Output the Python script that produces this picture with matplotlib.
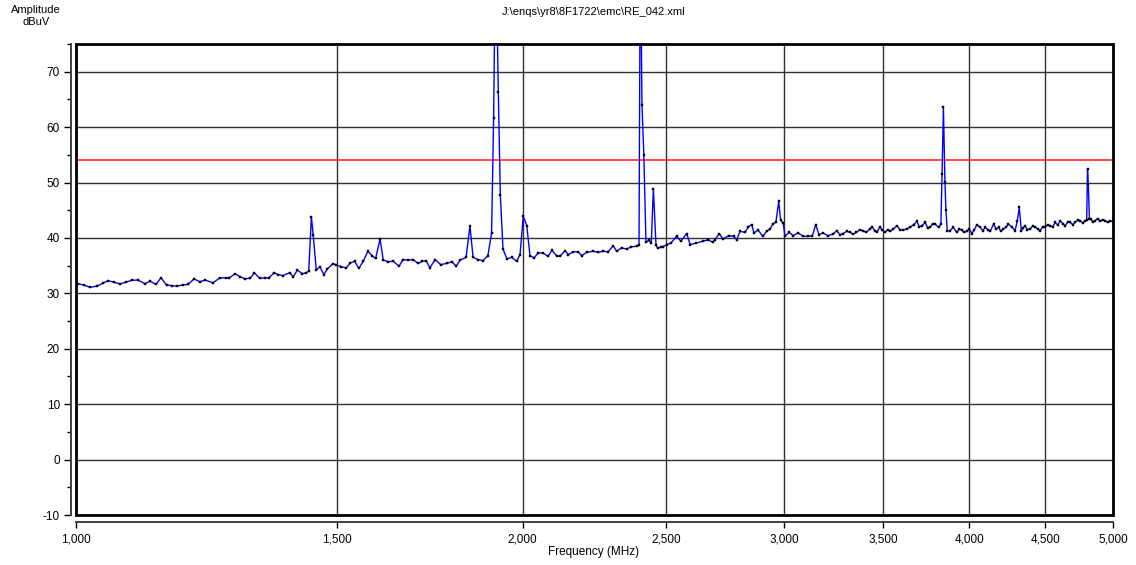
import matplotlib.pyplot as plt
from matplotlib.ticker import FixedLocator, NullLocator, MultipleLocator, FuncFormatter
from matplotlib.patches import Rectangle

plt.rcParams['font.family'] = ['Liberation Sans', 'DejaVu Sans']
plt.rcParams['axes.unicode_minus'] = False

# Data
freq_mhz = [
    1000, 1003, 1012, 1022, 1033, 1042, 1051, 1061, 1071, 1080, 1090, 1101, 1113, 1122, 1132, 1141,
    1151, 1160, 1169, 1180, 1190, 1201, 1212, 1222, 1237, 1250, 1263, 1269, 1280, 1290, 1299, 1310,
    1319, 1330, 1340, 1349, 1360, 1369, 1378, 1393, 1401, 1410, 1421, 1429, 1435, 1441, 1445, 1452,
    1460, 1469, 1477, 1489, 1497, 1509, 1521, 1531, 1541, 1551, 1562, 1573, 1583, 1592, 1603, 1611,
    1624, 1636, 1651, 1661, 1674, 1687, 1701, 1712, 1722, 1732, 1746, 1761, 1778, 1792, 1804, 1815,
    1832, 1843, 1852, 1866, 1881, 1895, 1906, 1912, 1918, 1926, 1932, 1940, 1952, 1966, 1982, 1992,
    2002, 2013, 2023, 2036, 2049, 2063, 2081, 2093, 2109, 2120, 2136, 2147, 2164, 2180, 2192, 2209,
    2232, 2249, 2267, 2284, 2302, 2314, 2332, 2350, 2368, 2387, 2396, 2401, 2407, 2414, 2422, 2434,
    2442, 2450, 2460, 2466, 2479, 2485, 2501, 2518, 2540, 2557, 2580, 2594, 2619, 2647, 2668, 2686,
    2696, 2714, 2729, 2753, 2775, 2788, 2803, 2825, 2839, 2854, 2864, 2883, 2903, 2921, 2936, 2951,
    2963, 2976, 2985, 2997, 3005, 3025, 3044, 3067, 3091, 3115, 3136, 3152, 3168, 3188, 3212, 3238,
    3256, 3273, 3290, 3307, 3324, 3341, 3358, 3375, 3393, 3410, 3428, 3441, 3455, 3468, 3482, 3496,
    3510, 3524, 3538, 3556, 3575, 3593, 3612, 3631, 3650, 3669, 3688, 3702, 3717, 3736, 3750, 3765,
    3780, 3794, 3814, 3828, 3835, 3843, 3852, 3858, 3866, 3882, 3902, 3924, 3940, 3954, 3970, 3985,
    4000, 4016, 4032, 4048, 4069, 4085, 4101, 4117, 4133, 4154, 4170, 4186, 4202, 4218, 4234, 4250,
    4273, 4295, 4310, 4323, 4337, 4349, 4361, 4378, 4395, 4413, 4431, 4448, 4465, 4483, 4500, 4518,
    4535, 4553, 4571, 4589, 4607, 4625, 4643, 4661, 4679, 4697, 4715, 4733, 4752, 4770, 4789, 4800,
    4806, 4812, 4820, 4831, 4847, 4863, 4882, 4901, 4920, 4940, 4959, 4978, 5000,
]
level_dbuv = [
    31.8, 31.75, 31.5, 31.1, 31.3, 31.8, 32.3, 32.0, 31.7, 32.0, 32.35, 32.4, 31.75, 32.2, 31.6, 32.8,
    31.5, 31.4, 31.3, 31.5, 31.6, 32.6, 32.1, 32.4, 31.9, 32.8, 32.8, 32.8, 33.55, 33.0, 32.65, 32.7,
    33.7, 32.7, 32.8, 32.8, 33.7, 33.4, 33.2, 33.7, 33.0, 34.2, 33.55, 33.7, 34.0, 43.8, 40.5, 34.2,
    34.8, 33.4, 34.4, 35.3, 35.2, 34.8, 34.6, 35.5, 35.8, 34.5, 35.8, 37.6, 36.8, 36.3, 39.8, 36.0,
    35.7, 35.8, 34.9, 36.1, 36.0, 36.1, 35.4, 35.8, 35.9, 34.6, 36.1, 35.2, 35.4, 35.7, 34.9, 36.0,
    36.5, 42.2, 36.5, 36.1, 35.9, 36.8, 40.9, 61.7, 95.0, 66.3, 47.8, 38.0, 36.2, 36.5, 35.8, 37.0,
    43.9, 42.2, 36.8, 36.4, 37.3, 37.3, 36.7, 37.8, 36.7, 36.7, 37.7, 37.0, 37.5, 37.5, 36.8, 37.4,
    37.6, 37.4, 37.6, 37.5, 38.6, 37.6, 38.2, 38.0, 38.4, 38.5, 38.7, 95.0, 64.0, 55.0, 39.2, 39.6,
    39.0, 48.9, 38.7, 38.2, 38.3, 38.4, 38.8, 39.1, 40.3, 39.4, 40.8, 38.8, 39.1, 39.4, 39.7, 39.2,
    39.7, 40.8, 39.8, 40.4, 40.3, 39.7, 41.2, 41.0, 42.0, 42.4, 40.9, 41.4, 40.3, 41.2, 41.6, 42.6,
    42.8, 46.6, 43.2, 42.7, 40.3, 41.0, 40.4, 40.9, 40.3, 40.3, 40.4, 42.4, 40.6, 40.9, 40.4, 40.7,
    41.3, 40.6, 40.8, 41.2, 41.0, 40.7, 41.0, 41.5, 41.3, 41.0, 41.6, 42.0, 41.3, 41.1, 42.0, 41.4,
    41.0, 41.5, 41.2, 41.6, 42.2, 41.5, 41.4, 41.7, 41.9, 42.4, 43.0, 42.0, 42.2, 42.8, 41.8, 41.9,
    42.6, 42.5, 41.9, 42.5, 51.6, 63.6, 50.1, 45.0, 41.3, 41.3, 41.9, 41.0, 41.6, 41.4, 41.0, 41.2,
    41.6, 40.8, 41.5, 42.4, 41.9, 41.3, 41.9, 41.5, 41.2, 42.5, 41.6, 41.9, 41.2, 41.6, 41.9, 42.5,
    42.0, 41.3, 43.1, 45.5, 41.3, 41.8, 42.2, 41.5, 41.6, 42.1, 42.0, 41.6, 41.3, 42.0, 41.9, 42.4,
    42.2, 42.0, 42.8, 42.3, 43.1, 42.6, 42.2, 42.9, 42.8, 42.4, 42.8, 43.2, 43.1, 42.7, 43.0, 43.2,
    52.5, 49.8, 43.5, 43.4, 42.9, 43.1, 43.5, 43.0, 43.3, 43.1, 42.8, 43.0, 43.0,
]
limit_dbuv = 54
x_ticks = [1000, 1500, 2000, 2500, 3000, 3500, 4000, 4500, 5000]

W, H = 1136, 565
fig = plt.figure(figsize=(W / 100, H / 100), dpi=100)
ax = fig.add_axes([76 / W, 1 - 515 / H, (1113 - 76) / W, (515 - 44) / H])

ax.plot(freq_mhz, level_dbuv, color='#0000ff', lw=1.0, marker='s', ms=2.0,
        mfc='black', mec='black', mew=0.3, zorder=3)
ax.axhline(limit_dbuv, color='#ff2a2a', lw=1.2, zorder=2)

ax.set_xscale('log')
ax.set_xlim(1000, 5000)
ax.set_ylim(-10, 75)
ax.xaxis.set_major_locator(FixedLocator(x_ticks))
ax.xaxis.set_minor_locator(NullLocator())
ax.xaxis.set_major_formatter(FuncFormatter(lambda v, p: f'{v:,.0f}'))
ax.yaxis.set_major_locator(MultipleLocator(10))
ax.yaxis.set_minor_locator(MultipleLocator(5))

ax.grid(True, which='major', color='#303030', lw=1.0)
ax.set_axisbelow(True)

# detached axis lines like the analyser software
ax.spines['top'].set_visible(False)
ax.spines['right'].set_visible(False)
ax.spines['left'].set_position(('outward', 3.6))
ax.spines['bottom'].set_position(('outward', 5))
ax.spines['left'].set_linewidth(1.4)
ax.spines['bottom'].set_linewidth(1.4)
ax.spines['left'].set_color('#404040')
ax.spines['bottom'].set_color('#404040')
ax.tick_params(axis='y', which='major', length=5, width=1, labelsize=8.5, pad=3)
ax.tick_params(axis='y', which='minor', length=3, width=1)
ax.tick_params(axis='x', which='major', length=4, width=1, labelsize=8.5, pad=4)

# plot frame
ax.add_patch(Rectangle((0, 0), 1, 1, transform=ax.transAxes, fill=False,
                       ec='black', lw=2, clip_on=False, zorder=5))

fig.text(594 / W, 1 - 552 / H, 'Frequency (MHz)', ha='center', va='center', fontsize=8.5)
fig.text(594 / W, 1 - 12 / H, 'J:\\enqs\\yr8\\8F1722\\emc\\RE_042.xml',
         ha='center', va='center', fontsize=8)
fig.text(36 / W, 1 - 10 / H, 'Amplitude', ha='center', va='center', fontsize=8)
fig.text(36 / W, 1 - 22 / H, 'dBuV', ha='center', va='center', fontsize=8)

fig.savefig('out.png', dpi=100)
